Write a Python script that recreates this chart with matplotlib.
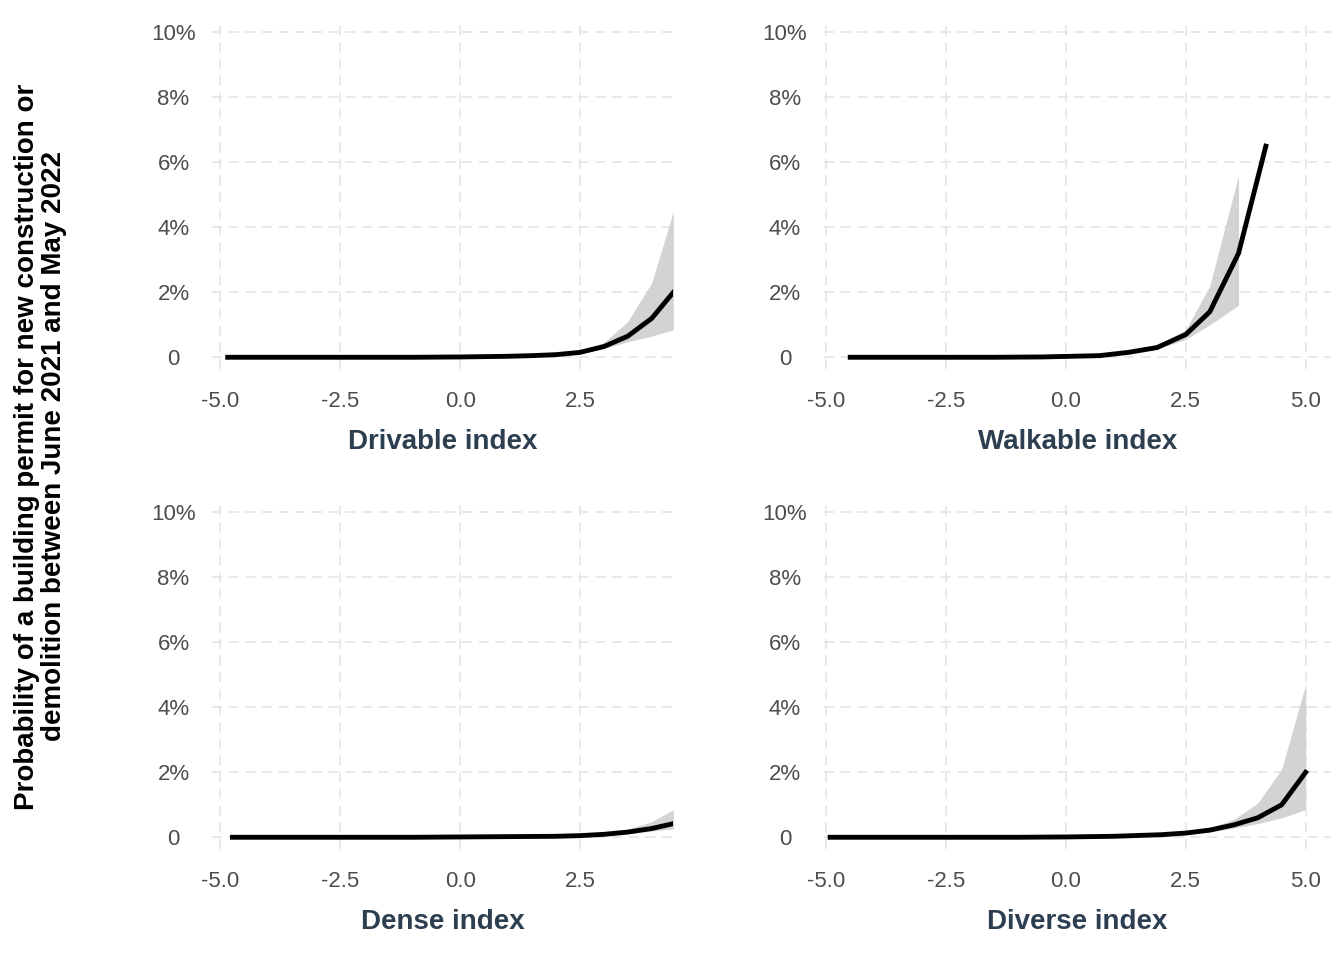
import matplotlib
matplotlib.use("Agg")
import matplotlib.pyplot as plt
from matplotlib.ticker import FuncFormatter

plt.rcParams['font.family'] = ['Liberation Sans', 'DejaVu Sans']

titles = ["Drivable index", "Walkable index", "Dense index", "Diverse index"]

drv_x = [-4.85, -4.0, -3.0, -2.0, -1.0, 0.0, 0.5, 1.0, 1.5, 2.0, 2.5, 3.0, 3.5, 4.0, 4.45]
drv_y = [0.0, 0.0, 0.0, 0.0, 0.0, 0.01, 0.02, 0.03, 0.05, 0.08, 0.15, 0.33, 0.65, 1.2, 2.0]
drv_lo = [0.0, 0.0, 0.0, 0.0, 0.0, 0.0, 0.01, 0.02, 0.04, 0.06, 0.12, 0.27, 0.48, 0.65, 0.85]
drv_hi = [0.0, 0.0, 0.0, 0.0, 0.0, 0.02, 0.03, 0.04, 0.07, 0.1, 0.2, 0.45, 1.1, 2.3, 4.5]

wlk_x = [-4.5, -3.5, -2.5, -1.5, -0.5, 0.1, 0.7, 1.3, 1.9, 2.5, 3.0, 3.6, 4.17]
wlk_y = [0.0, 0.0, 0.0, 0.0, 0.01, 0.03, 0.05, 0.15, 0.3, 0.7, 1.4, 3.2, 6.5]
wlk_lo = [0.0, 0.0, 0.0, 0.0, 0.0, 0.02, 0.04, 0.12, 0.25, 0.55, 1.0, 1.6, None]
wlk_hi = [0.0, 0.0, 0.0, 0.0, 0.02, 0.04, 0.07, 0.18, 0.36, 0.85, 2.2, 5.6, None]

dns_x = [-4.75, -4.0, -3.0, -2.0, -1.0, 0.0, 1.0, 2.0, 2.5, 3.0, 3.5, 4.0, 4.45]
dns_y = [0.0, 0.0, 0.0, 0.0, 0.0, 0.01, 0.02, 0.03, 0.05, 0.09, 0.16, 0.27, 0.42]
dns_lo = [0.0, 0.0, 0.0, 0.0, 0.0, 0.0, 0.01, 0.02, 0.04, 0.07, 0.12, 0.19, 0.26]
dns_hi = [0.0, 0.0, 0.0, 0.0, 0.0, 0.02, 0.03, 0.04, 0.06, 0.12, 0.25, 0.48, 0.85]

dvs_x = [-4.92, -4.0, -3.0, -2.0, -1.0, 0.0, 1.0, 2.0, 2.5, 3.0, 3.5, 4.0, 4.5, 5.0]
dvs_y = [0.0, 0.0, 0.0, 0.0, 0.0, 0.01, 0.03, 0.08, 0.13, 0.22, 0.38, 0.6, 1.0, 2.0]
dvs_lo = [0.0, 0.0, 0.0, 0.0, 0.0, 0.0, 0.02, 0.06, 0.1, 0.17, 0.28, 0.42, 0.6, 0.85]
dvs_hi = [0.0, 0.0, 0.0, 0.0, 0.0, 0.02, 0.04, 0.1, 0.17, 0.3, 0.55, 1.05, 2.1, 4.7]

series = [(drv_x, drv_y, drv_lo, drv_hi), (wlk_x, wlk_y, wlk_lo, wlk_hi),
          (dns_x, dns_y, dns_lo, dns_hi), (dvs_x, dvs_y, dvs_lo, dvs_hi)]
xlims = [(-5.17, 4.45), (-5.05, 5.52), (-5.17, 4.45), (-5.05, 5.52)]
xticks = [[-5, -2.5, 0, 2.5], [-5, -2.5, 0, 2.5, 5], [-5, -2.5, 0, 2.5], [-5, -2.5, 0, 2.5, 5]]

fig = plt.figure(figsize=(13.44, 9.6), dpi=100)
lefts = [0.158, 0.613]
widths = [0.343, 0.377]
bottoms = [0.616, 0.116]
fmt = FuncFormatter(lambda v, p: "0" if v == 0 else f"{v:.0f}%")
for i, (x, y, lo, hi) in enumerate(series):
    r, c = divmod(i, 2)
    ax = fig.add_axes([lefts[c], bottoms[r], widths[c], 0.362])
    n = sum(v is not None for v in lo)
    ax.fill_between(x[:n], lo[:n], hi[:n], color="#d3d3d3", linewidth=0)
    ax.plot(x, y, color="black", lw=3.5)
    ax.set_xlim(*xlims[i])
    ax.set_ylim(-0.35, 10.35)
    ax.set_xticks(xticks[i])
    ax.set_xticklabels([f"{t:.1f}" for t in xticks[i]])
    ax.set_yticks([0, 2, 4, 6, 8, 10])
    ax.yaxis.set_major_formatter(fmt)
    ax.grid(True, color="#e5e5e5", ls=(0, (6, 4)), lw=1.2)
    ax.set_axisbelow(True)
    for s in ax.spines.values():
        s.set_visible(False)
    ax.tick_params(axis="x", length=0, labelsize=16, labelcolor="#4d4d4d", pad=16)
    ax.tick_params(axis="y", length=0, labelsize=16, labelcolor="#4d4d4d", pad=28)
    for lab in ax.get_yticklabels():
        lab.set_horizontalalignment("center")
    ax.set_xlabel(titles[i], fontsize=20, fontweight="bold", color="#2c3e50", labelpad=12)

fig.text(0.03, 0.535, "Probability of a building permit for new construction or\ndemolition between June 2021 and May 2022",
         rotation=90, ha="center", va="center", fontsize=20, fontweight="bold", linespacing=1.05)
fig.savefig("out.png", dpi=100)
